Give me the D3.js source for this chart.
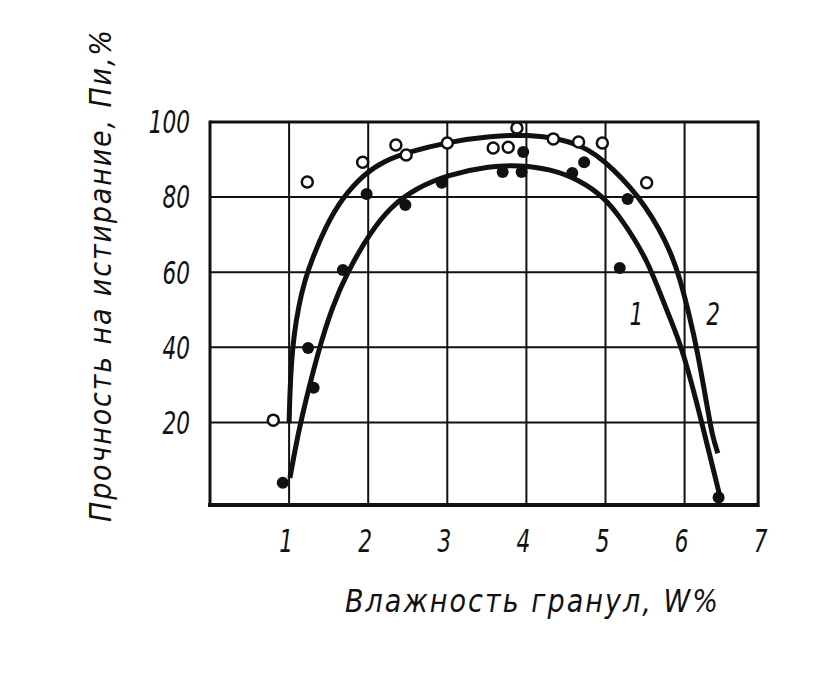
<!DOCTYPE html>
<html>
<head>
<meta charset="utf-8">
<script src="https://cdn.jsdelivr.net/npm/d3@7"></script>
<style>
  html, body { margin: 0; padding: 0; background: #fff; }
  svg { display: block; }
  text { font-family: "DejaVu Sans Condensed", "Liberation Sans Narrow", sans-serif; font-style: italic; fill: #111; }
</style>
</head>
<body>
<svg id="chart" width="816" height="696"></svg>
<script>
// ---- data ----
const xTicks = [1, 2, 3, 4, 5, 6, 7];
const yTicks = [20, 40, 60, 80, 100];
const yGrid = [20, 40, 60, 80];
const xGrid = [1, 2, 3, 4, 5, 6];

// series 2 (open circles) measured points
const series2Points = [
  [0.80, 20.6], [1.23, 84.0], [1.93, 89.3], [2.35, 93.9], [2.48, 91.2],
  [3.00, 94.4], [3.58, 93.1], [3.77, 93.3], [3.88, 98.4], [4.34, 95.5],
  [4.66, 94.7], [4.96, 94.4], [5.52, 83.8]
];
// series 1 (filled circles) measured points
const series1Points = [
  [0.92, 3.9], [1.24, 39.8], [1.31, 29.2], [1.68, 60.6], [1.98, 80.8],
  [2.47, 77.9], [2.93, 83.8], [3.70, 86.7], [3.94, 86.7], [3.96, 92.0],
  [4.58, 86.4], [4.73, 89.3], [5.28, 79.5], [5.18, 61.1], [6.43, 0.0]
];
// fitted curves
const curve2 = [
  [1.00, 19.8], [1.01, 28.0], [1.03, 36.0], [1.06, 43.0], [1.12, 51.0],
  [1.20, 58.0], [1.30, 64.0], [1.46, 72.0], [1.66, 79.5], [1.95, 86.2],
  [2.20, 89.6], [2.50, 92.0], [3.02, 94.7], [3.54, 96.3], [4.05, 96.6],
  [4.40, 95.6], [4.68, 93.8], [4.88, 91.3], [5.10, 87.4], [5.31, 82.7],
  [5.50, 77.6], [5.68, 71.5], [5.82, 65.5], [5.94, 58.5], [6.06, 48.5],
  [6.16, 39.3], [6.30, 22.5], [6.35, 16.5], [6.42, 11.8]
];
const curve1 = [
  [1.01, 5.2], [1.07, 12.0], [1.14, 19.8], [1.37, 39.3], [1.55, 51.0], [1.73, 59.8],
  [2.02, 70.4], [2.28, 77.4], [2.60, 82.3], [3.00, 85.9], [3.54, 88.3],
  [3.92, 88.5], [4.30, 87.5], [4.68, 84.5], [4.99, 79.8], [5.18, 74.7],
  [5.35, 69.4], [5.52, 63.2], [5.66, 56.1], [5.80, 48.5], [5.98, 39.3],
  [6.22, 19.8], [6.38, 6.0], [6.45, 0.0]
];
const curveLabels = [
  { text: "1", x: 5.39, y: 49 },
  { text: "2", x: 6.36, y: 49 }
];
const xTitle = "Влажность гранул, W%";
const yTitle = "Прочность на истирание, Пи,%";

// ---- layout ----
const xFrame = [0, 6.93];
const yFrame = [-2, 100];
const x = d3.scaleLinear().domain([0, 7]).range([210, 210 + 7 * 79.1]);
const y = d3.scaleLinear().domain(yFrame).range([505, 122]);

const svg = d3.select("#chart");
svg.append("rect").attr("width", 816).attr("height", 696).attr("fill", "#fff");

const ink = "#111";

// grid
svg.append("g").selectAll("line").data(xGrid).join("line")
  .attr("x1", d => x(d)).attr("x2", d => x(d))
  .attr("y1", y(yFrame[0])).attr("y2", y(yFrame[1]))
  .attr("stroke", ink).attr("stroke-width", 2);
svg.append("g").selectAll("line").data(yGrid).join("line")
  .attr("x1", x(xFrame[0])).attr("x2", x(xFrame[1]))
  .attr("y1", d => y(d)).attr("y2", d => y(d))
  .attr("stroke", ink).attr("stroke-width", 2);

// frame
svg.append("line").attr("x1", x(xFrame[0])).attr("x2", x(xFrame[1]))
  .attr("y1", y(yFrame[1])).attr("y2", y(yFrame[1]))
  .attr("stroke", ink).attr("stroke-width", 3);
svg.append("line").attr("x1", x(xFrame[0]) - 2).attr("x2", x(xFrame[1]) + 1)
  .attr("y1", y(yFrame[0])).attr("y2", y(yFrame[0]))
  .attr("stroke", ink).attr("stroke-width", 4);
svg.append("line").attr("x1", x(xFrame[0])).attr("x2", x(xFrame[0]))
  .attr("y1", y(yFrame[1]) - 1.5).attr("y2", y(yFrame[0]) + 2)
  .attr("stroke", ink).attr("stroke-width", 3);
svg.append("line").attr("x1", x(xFrame[1])).attr("x2", x(xFrame[1]))
  .attr("y1", y(yFrame[1]) - 1.5).attr("y2", y(yFrame[0]) + 2)
  .attr("stroke", ink).attr("stroke-width", 3);

// curves (smoothed through the read-off points)
const line = d3.line().x(d => x(d[0])).y(d => y(d[1])).curve(d3.curveBasis);
[curve1, curve2].forEach(c => {
  svg.append("path").attr("d", line(c)).attr("fill", "none")
    .attr("stroke", ink).attr("stroke-width", 5).attr("stroke-linecap", "butt")
    .attr("stroke-linejoin", "round");
});

// points
svg.append("g").selectAll("circle").data(series2Points).join("circle")
  .attr("cx", d => x(d[0])).attr("cy", d => y(d[1])).attr("r", 5.5)
  .attr("fill", "#fff").attr("stroke", ink).attr("stroke-width", 2.5);
svg.append("g").selectAll("circle").data(series1Points).join("circle")
  .attr("cx", d => x(d[0])).attr("cy", d => y(d[1])).attr("r", 6)
  .attr("fill", ink);

// tick labels (narrow italic)
svg.append("g").selectAll("text").data(xTicks).join("text")
  .attr("transform", d => `translate(${x(d) - 3},552) scale(0.8,1.05)`)
  .attr("text-anchor", "middle").attr("font-size", 30)
  .text(d => d);
svg.append("g").selectAll("text").data(yTicks).join("text")
  .attr("transform", d => `translate(190,${y(d)}) scale(0.8,1.05)`)
  .attr("dy", "0.36em")
  .attr("text-anchor", "end").attr("font-size", 30)
  .text(d => d);

// curve labels
svg.append("g").selectAll("text").data(curveLabels).join("text")
  .attr("transform", d => `translate(${x(d.x)},${y(d.y)}) scale(0.8,1.05)`)
  .attr("dy", "0.36em").attr("text-anchor", "middle").attr("font-size", 30)
  .text(d => d.text);

// axis titles
svg.append("text").attr("transform", "translate(345,612) scale(1,1.05)")
  .attr("font-size", 30).attr("textLength", 373).attr("lengthAdjust", "spacing")
  .text(xTitle);
svg.append("text")
  .attr("transform", "translate(111,522) rotate(-90)")
  .attr("font-size", 30).attr("textLength", 492).attr("lengthAdjust", "spacing")
  .text(yTitle);
</script>
</body>
</html>
